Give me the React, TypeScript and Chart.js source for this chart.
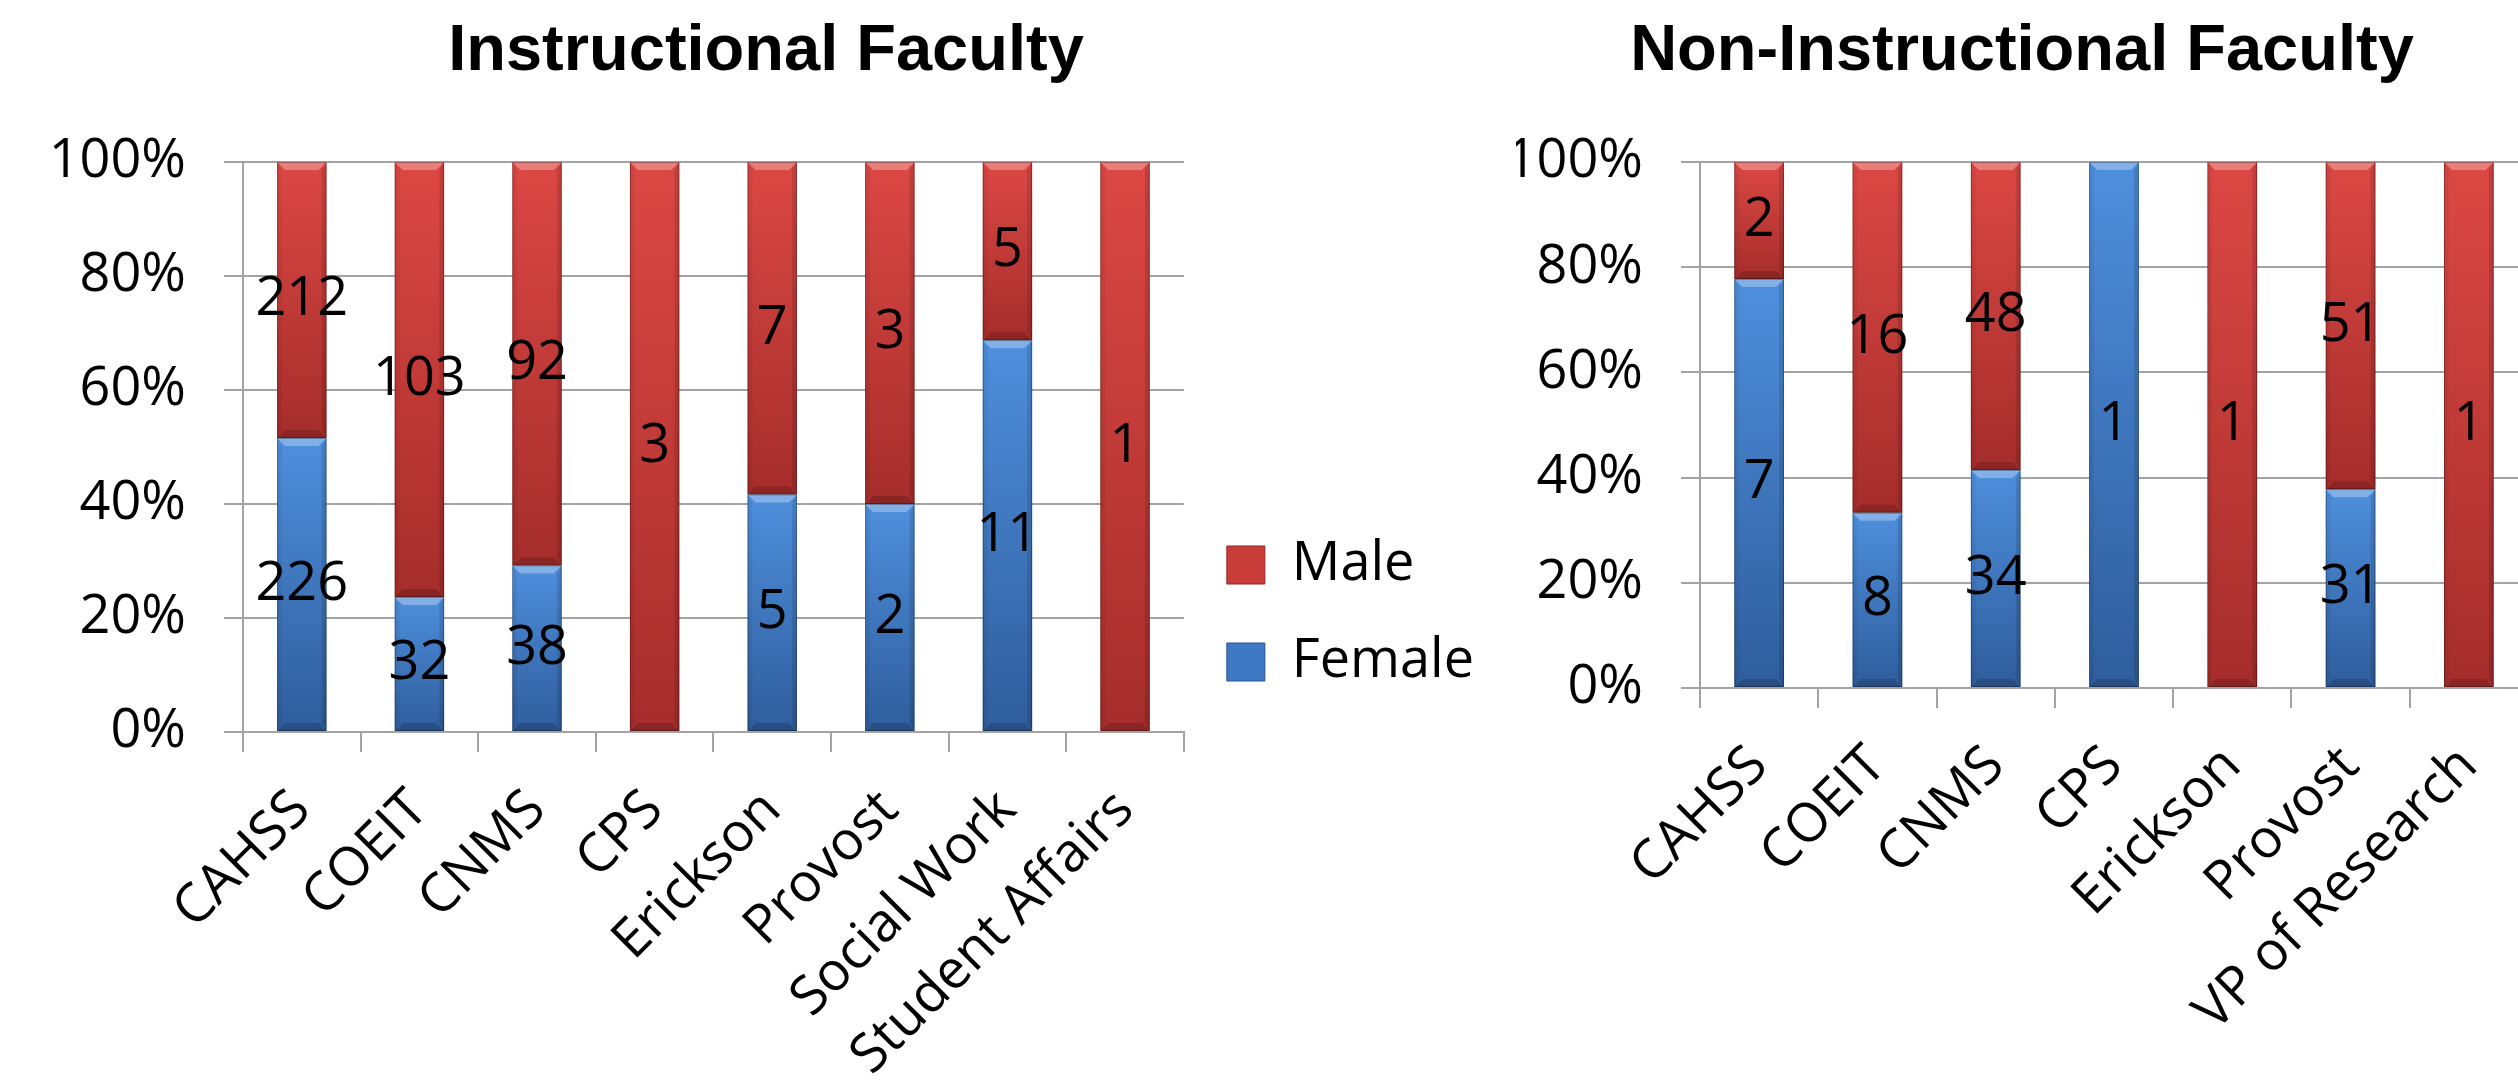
import React, { useEffect, useRef } from 'react';
import { Chart, registerables } from 'chart.js';

Chart.register(...registerables);

// ---------- data ----------
const leftTitle = 'Instructional Faculty';
const leftCategories = ['CAHSS', 'COEIT', 'CNMS', 'CPS', 'Erickson', 'Provost', 'Social Work', 'Student Affairs'];
const leftFemale = [226, 32, 38, 0, 5, 2, 11, 0];
const leftMale = [212, 103, 92, 3, 7, 3, 5, 1];

const rightTitle = 'Non-Instructional Faculty';
const rightCategories = ['CAHSS', 'COEIT', 'CNMS', 'CPS', 'Erickson', 'Provost', 'VP of Research'];
const rightFemale = [7, 8, 34, 1, 0, 31, 0];
const rightMale = [2, 16, 48, 0, 1, 51, 1];

const seriesNames = ['Female', 'Male'];
const yTickMin = 0;
const yTickMax = 100;
const yTickStep = 20;

// ---------- styles ----------
const FONT = "'Open Sans', 'Liberation Sans', sans-serif";
const TITLE_FONT = "'Liberation Sans', Arial, sans-serif";
const GRID = '#a3a3a3';
const RED_LIGHT = '#dc4844';
const RED_DARK = '#a52d2b';
const BLUE_LIGHT = '#4e8fdd';
const BLUE_DARK = '#2f5d9c';

function share(part: number[], other: number[]) {
  return part.map((v, i) => {
    const t = v + other[i];
    return t ? (v / t) * 100 : 0;
  });
}

function gradientFill(light: string, dark: string) {
  return (ctx: any) => {
    if (ctx.type !== 'data') return dark;
    const chart = ctx.chart;
    const y = chart.scales && chart.scales.y;
    if (!y || !chart.chartArea) return dark;
    let start = 0;
    for (let d = 0; d < ctx.datasetIndex; d++) {
      start += Number(chart.data.datasets[d].data[ctx.dataIndex]) || 0;
    }
    const end = start + (Number(ctx.raw) || 0);
    const top = y.getPixelForValue(end);
    const bottom = y.getPixelForValue(start);
    if (!(bottom - top > 0.5) || !isFinite(top) || !isFinite(bottom)) return dark;
    const g = chart.ctx.createLinearGradient(0, top, 0, bottom);
    g.addColorStop(0, light);
    g.addColorStop(1, dark);
    return g;
  };
}

const bevelPlugin = {
  id: 'bevel',
  afterDatasetsDraw(chart: any) {
    const c = chart.ctx;
    chart.data.datasets.forEach((_ds: any, di: number) => {
      const meta = chart.getDatasetMeta(di);
      meta.data.forEach((el: any) => {
        const { x, y, base, width } = el.getProps(['x', 'y', 'base', 'width'], true);
        const h = base - y;
        if (h < 1) return;
        const l = x - width / 2;
        const r = x + width / 2;
        const b = Math.min(8, h / 2);
        c.save();
        c.fillStyle = 'rgba(255,255,255,0.30)';
        c.beginPath();
        c.moveTo(l, y);
        c.lineTo(r, y);
        c.lineTo(r - b, y + b);
        c.lineTo(l + b, y + b);
        c.closePath();
        c.fill();
        c.fillStyle = 'rgba(0,0,0,0.16)';
        c.beginPath();
        c.moveTo(l, base);
        c.lineTo(r, base);
        c.lineTo(r - b, base - b);
        c.lineTo(l + b, base - b);
        c.closePath();
        c.fill();
        c.fillStyle = 'rgba(0,0,0,0.12)';
        c.beginPath();
        c.moveTo(r, y);
        c.lineTo(r, base);
        c.lineTo(r - b * 0.6, base - b);
        c.lineTo(r - b * 0.6, y + b);
        c.closePath();
        c.fill();
        c.fillStyle = 'rgba(0,0,0,0.05)';
        c.beginPath();
        c.moveTo(l, y);
        c.lineTo(l, base);
        c.lineTo(l + b * 0.6, base - b);
        c.lineTo(l + b * 0.6, y + b);
        c.closePath();
        c.fill();
        c.strokeStyle = 'rgba(0,0,0,0.30)';
        c.lineWidth = 1;
        c.strokeRect(l + 0.5, y + 0.5, width - 1, h - 1);
        c.restore();
      });
    });
  },
};

const countLabelPlugin = {
  id: 'countLabels',
  afterDatasetsDraw(chart: any) {
    const c = chart.ctx;
    c.save();
    c.font = `54px ${FONT}`;
    c.fillStyle = '#000';
    c.textAlign = 'center';
    c.textBaseline = 'middle';
    chart.data.datasets.forEach((ds: any, di: number) => {
      const meta = chart.getDatasetMeta(di);
      meta.data.forEach((el: any, i: number) => {
        const n = ds.counts[i];
        if (!n) return;
        const { x, y, base } = el.getProps(['x', 'y', 'base'], true);
        c.fillText(String(n), x, (y + base) / 2);
      });
    });
    c.restore();
  },
};

type Props = {
  title: string;
  categories: string[];
  female: number[];
  male: number[];
  legend: boolean;
  left: number;
  width: number;
  padLeft: number;
  padRight: number;
  yAxisWidth: number;
  xAxisHeight: number;
};

function StackedPercentChart(p: Props) {
  const ref = useRef<HTMLCanvasElement | null>(null);
  useEffect(() => {
    if (!ref.current) return;
    const femalePct = share(p.female, p.male);
    const malePct = share(p.male, p.female);
    const chart = new Chart(ref.current, {
      type: 'bar',
      data: {
        labels: p.categories,
        datasets: [
          {
            label: seriesNames[0],
            data: femalePct,
            counts: p.female,
            backgroundColor: gradientFill(BLUE_LIGHT, BLUE_DARK),
            borderWidth: 0,
            barPercentage: 0.42,
            categoryPercentage: 1,
          } as any,
          {
            label: seriesNames[1],
            data: malePct,
            counts: p.male,
            backgroundColor: gradientFill(RED_LIGHT, RED_DARK),
            borderWidth: 0,
            barPercentage: 0.42,
            categoryPercentage: 1,
          } as any,
        ],
      },
      options: {
        responsive: false,
        devicePixelRatio: 1,
        animation: false,
        events: [],
        layout: { padding: { left: p.padLeft, right: p.padRight, top: 0, bottom: 0 } },
        plugins: {
          title: {
            display: true,
            text: p.title,
            color: '#000',
            font: { family: TITLE_FONT, size: 65, weight: 'bold', lineHeight: 1.2 },
            padding: { top: 13, bottom: 71 },
          },
          legend: {
            display: p.legend,
            position: 'right',
            align: 'end',
            fullSize: false,
            labels: {
              color: '#000',
              font: { family: FONT, size: 54 },
              boxWidth: 38,
              boxHeight: 38,
              padding: 43,
              generateLabels: () => [
                { text: seriesNames[1], fillStyle: '#c83c39', strokeStyle: '#8e2624', lineWidth: 1, hidden: false, datasetIndex: 1 },
                { text: seriesNames[0], fillStyle: '#3e79c5', strokeStyle: '#2a5288', lineWidth: 1, hidden: false, datasetIndex: 0 },
              ],
            },
          },
          tooltip: { enabled: false },
        },
        scales: {
          x: {
            stacked: true,
            offset: true,
            afterFit: (s: any) => {
              s.height = p.xAxisHeight;
            },
            grid: {
              display: true,
              drawOnChartArea: false,
              drawTicks: true,
              tickLength: 20,
              color: GRID,
              lineWidth: 2,
              offset: true,
            },
            border: { display: true, color: GRID, width: 2 },
            ticks: {
              color: '#000',
              font: { family: FONT, size: 54 },
              autoSkip: false,
              maxRotation: 45,
              minRotation: 45,
              padding: 26,
            },
          },
          y: {
            stacked: true,
            min: yTickMin,
            max: yTickMax,
            afterFit: (s: any) => {
              s.width = p.yAxisWidth;
            },
            grid: {
              color: GRID,
              lineWidth: 2,
              drawTicks: true,
              tickLength: 19,
            },
            border: { display: true, color: GRID, width: 2 },
            ticks: {
              stepSize: yTickStep,
              color: '#000',
              font: { family: FONT, size: 54 },
              padding: 38,
              callback: (v: any) => `${v}%`,
            },
          },
        },
      },
      plugins: [bevelPlugin, countLabelPlugin],
    } as any);
    return () => chart.destroy();
  }, []);
  return (
    <canvas
      ref={ref}
      width={p.width}
      height={1090}
      style={{ position: 'absolute', left: p.left, top: 0, width: p.width, height: 1090 }}
    />
  );
}

export default function App() {
  return (
    <div
      style={{
        position: 'fixed',
        left: 0,
        top: 0,
        width: 2518,
        height: 1090,
        overflow: 'hidden',
        background: '#fff',
      }}
    >
      <StackedPercentChart
        title={leftTitle}
        categories={leftCategories}
        female={leftFemale}
        male={leftMale}
        legend={true}
        left={0}
        width={1484}
        padLeft={48}
        padRight={0}
        yAxisWidth={195}
        xAxisHeight={358}
      />
      <StackedPercentChart
        title={rightTitle}
        categories={rightCategories}
        female={rightFemale}
        male={rightMale}
        legend={false}
        left={1457}
        width={1130}
        padLeft={59}
        padRight={59}
        yAxisWidth={184}
        xAxisHeight={402}
      />
    </div>
  );
}
